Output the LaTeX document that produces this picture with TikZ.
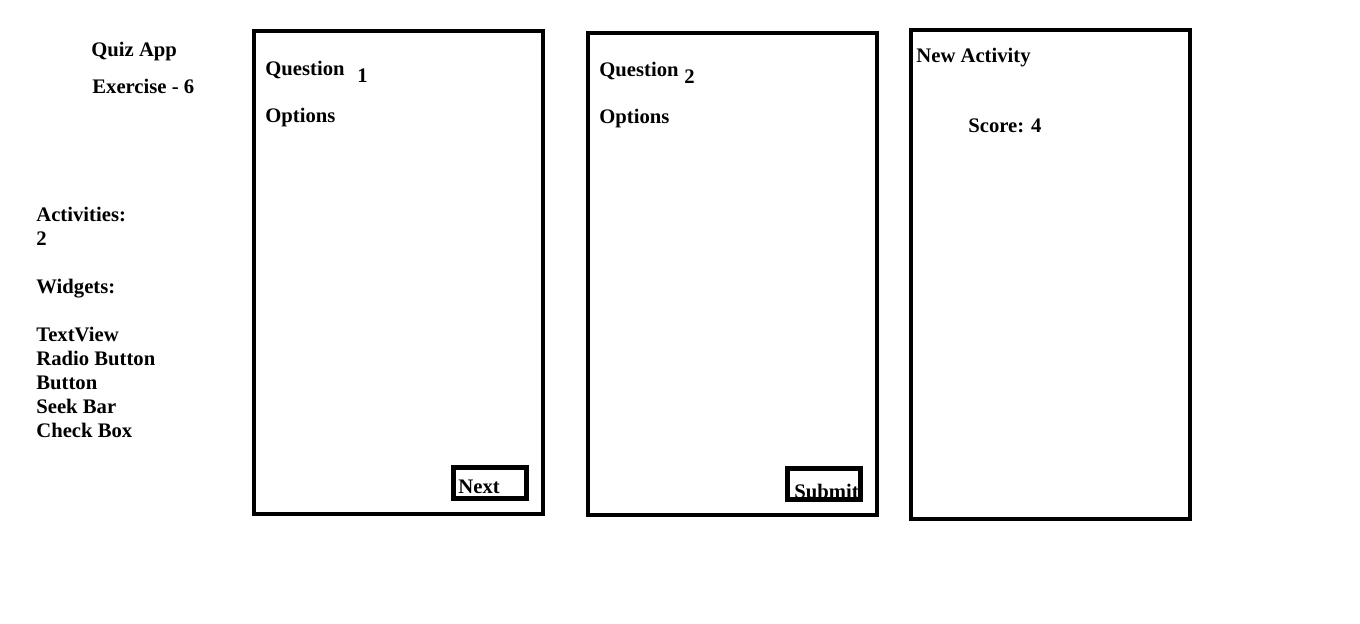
\documentclass[tikz,border=0pt]{standalone}
\usepackage{fontspec}
\setmainfont{Liberation Serif}
\usetikzlibrary{positioning}

\begin{document}
\begin{tikzpicture}[x=0.75pt,y=-0.75pt,semithick]
  \tikzstyle{txt}=[anchor=base west,inner sep=0pt,font=\fontsize{15.5}{18}\selectfont\bfseries]
  \tikzstyle{screen}=[draw=black,line width=3.4pt]
  \tikzstyle{btn}=[draw=black,line width=3.4pt]

  \useasboundingbox (0,0) rectangle (1360,624);

  %--- Left column (notes) ---
  \node[txt] (title)   at (91,57)  {Quiz App};
  \node[txt] (exno)    at (92,94)  {Exercise - 6};
  \node[txt] (act)     at (36,221) {Activities:};
  \node[txt] (actn)    at (36,245) {2};
  \node[txt] (wid)     at (36,293) {Widgets:};
  \node[txt] (w1)      at (36,341) {TextView};
  \node[txt] (w2)      at (36,365) {Radio Button};
  \node[txt] (w3)      at (36,389) {Button};
  \node[txt] (w4)      at (36,413) {Seek Bar};
  \node[txt] (w5)      at (36,437) {Check Box};

  %--- Screens ---
  \draw[screen] (254,31) rectangle (543,514);   % question 1
  \draw[screen] (588,33) rectangle (877,515);   % question 2
  \draw[screen] (911,30) rectangle (1190,519);  % new activity

  %--- Screen 1 ---
  \node[txt] (q1)   at (265,76)  {Question};
  \node[txt] (q1n)  at (357,83)  {1};
  \node[txt] (o1)   at (265,123) {Options};
  \draw[btn] (453.5,467.5) rectangle (526.5,498.5);
  \node[txt] (next) at (458,493) {Next};

  %--- Screen 2 ---
  \node[txt] (q2)   at (599,77)  {Question};
  \node[txt] (q2n)  at (684,84)  {2};
  \node[txt] (o2)   at (599,124) {Options};
  \draw[btn] (787.5,468.5) rectangle (860.5,499.5);
  \node[txt] (sub)  at (794,498) {Submit};

  %--- Screen 3 ---
  \node[txt] (newact) at (916,63)  {New Activity};
  \node[txt] (score)  at (968,133) {Score: 4};
\end{tikzpicture}
\end{document}
